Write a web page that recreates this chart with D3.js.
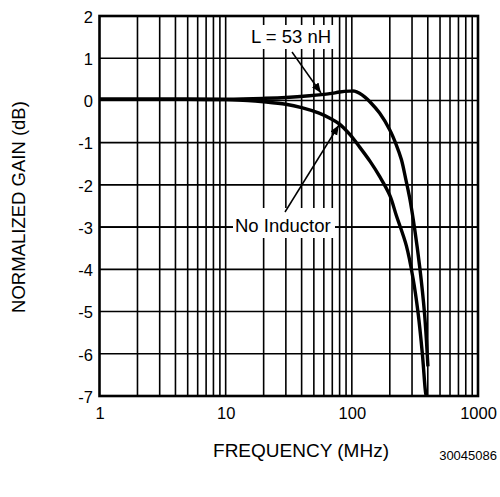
<!DOCTYPE html>
<html>
<head>
<meta charset="utf-8">
<script src="https://cdn.jsdelivr.net/npm/d3@7/dist/d3.min.js"></script>
<style>
  html, body { margin: 0; padding: 0; background: #fff; }
  svg { display: block; }
  text { font-family: "Liberation Sans", Arial, Helvetica, sans-serif; fill: #000; }
</style>
</head>
<body>
<svg id="chart" width="500" height="497"></svg>
<script>
// Frequency response: normalized gain (dB) vs frequency (MHz)
const withInductorFreq = [1, 5, 10, 20, 30, 46, 67, 80, 96, 105, 115, 127, 139, 166, 200, 225, 247, 267, 287, 315, 345, 377, 401];
const withInductorGain = [0.03, 0.03, 0.03, 0.05, 0.07, 0.11, 0.16, 0.20, 0.22, 0.22, 0.17, 0.08, -0.03, -0.30, -0.70, -1.05, -1.40, -1.85, -2.30, -3.05, -3.94, -5.05, -6.30];

const noInductorFreq = [1, 5, 10, 15, 20, 30, 40, 55, 67, 80, 96, 115, 140, 166, 200, 225, 271, 305, 334, 362, 385, 390];
const noInductorGain = [0.03, 0.03, 0.02, 0.0, -0.03, -0.09, -0.17, -0.30, -0.42, -0.56, -0.80, -1.10, -1.45, -1.80, -2.25, -2.72, -3.45, -4.20, -5.00, -5.99, -6.94, -7.00];

const xTickValues = [1, 10, 100, 1000];
const xTickLabels = ["1", "10", "100", "1000"];
const yTickValues = [2, 1, 0, -1, -2, -3, -4, -5, -6, -7];
const yTickLabels = ["2", "1", "0", "-1", "-2", "-3", "-4", "-5", "-6", "-7"];
const minorFreqs = [2, 3, 4, 5, 6, 7, 8, 9, 20, 30, 40, 50, 60, 70, 80, 90, 200, 300, 400, 500, 600, 700, 800, 900];

const svg = d3.select("#chart");
const plotL = 99.5, plotR = 478, plotT = 16, plotB = 396;

const x = d3.scaleLog().domain([1, 1000]).range([plotL, plotR]);
const y = d3.scaleLinear().domain([-7, 2]).range([plotB, plotT]);

// Grid
const grid = svg.append("g").attr("stroke", "#000").attr("stroke-width", 1.6);
grid.selectAll("line.v").data(minorFreqs.concat([10, 100])).join("line")
  .attr("class", "v")
  .attr("x1", d => x(d)).attr("x2", d => x(d))
  .attr("y1", plotT).attr("y2", plotB);
grid.selectAll("line.h").data(yTickValues).join("line")
  .attr("class", "h")
  .attr("x1", plotL).attr("x2", plotR)
  .attr("y1", d => y(d)).attr("y2", d => y(d));

// Label backgrounds cut the grid behind the annotation text
svg.append("rect").attr("x", 246).attr("y", 25).attr("width", 92).attr("height", 24).attr("fill", "#fff");
svg.append("rect").attr("x", 233).attr("y", 208).attr("width", 102).attr("height", 30).attr("fill", "#fff");
// The -3 dB grid line stays visible on both sides of the label
const g3 = svg.append("g").attr("stroke", "#000").attr("stroke-width", 1.6);
g3.append("line").attr("x1", plotL).attr("x2", 233).attr("y1", y(-3)).attr("y2", y(-3));
g3.append("line").attr("x1", 335).attr("x2", plotR).attr("y1", y(-3)).attr("y2", y(-3));

// Frame
svg.append("rect")
  .attr("x", plotL).attr("y", plotT)
  .attr("width", plotR - plotL).attr("height", plotB - plotT)
  .attr("fill", "none").attr("stroke", "#000").attr("stroke-width", 2.6);

// Curves
const line = d3.line()
  .x(d => x(d[0])).y(d => y(d[1]))
  .curve(d3.curveCatmullRom.alpha(0.5));

const series = [
  d3.zip(withInductorFreq, withInductorGain),
  d3.zip(noInductorFreq, noInductorGain)
];
svg.append("g").selectAll("path").data(series).join("path")
  .attr("d", line)
  .attr("fill", "none").attr("stroke", "#000")
  .attr("stroke-width", 3.4).attr("stroke-linejoin", "round");

// Axis tick labels
const yAxis = d3.axisLeft(y).tickValues(yTickValues).tickSize(0).tickPadding(0)
  .tickFormat((d, i) => yTickLabels[i]);
const gy = svg.append("g").attr("transform", "translate(93,1)").call(yAxis);
gy.select(".domain").remove();
gy.selectAll("text").attr("font-size", 16.5).attr("font-family", null);

const xAxis = d3.axisBottom(x).tickValues(xTickValues).tickSize(0).tickPadding(0)
  .tickFormat((d, i) => xTickLabels[i]);
const gx = svg.append("g").attr("transform", "translate(0,407)").call(xAxis);
gx.select(".domain").remove();
gx.selectAll("text").attr("font-size", 16.5).attr("font-family", null);

// Titles
svg.append("text").attr("x", 301).attr("y", 457).attr("text-anchor", "middle")
  .attr("font-size", 19).text("FREQUENCY (MHz)");
svg.append("text").attr("transform", "translate(25,207) rotate(-90)")
  .attr("text-anchor", "middle").attr("font-size", 18.5).text("NORMALIZED GAIN (dB)");
svg.append("text").attr("x", 497).attr("y", 460).attr("text-anchor", "end")
  .attr("font-size", 13).text("30045086");

// Annotations
svg.append("defs").append("marker")
  .attr("id", "head").attr("viewBox", "0 0 10 10")
  .attr("refX", 10).attr("refY", 5)
  .attr("markerWidth", 10).attr("markerHeight", 10)
  .attr("markerUnits", "userSpaceOnUse")
  .attr("orient", "auto")
  .append("path").attr("d", "M0,1 L10,5 L0,9 Z").attr("fill", "#000");

svg.append("text").attr("x", 251).attr("y", 43.3).attr("font-size", 18.5).text("L = 53 nH");
svg.append("line").attr("x1", 292).attr("y1", 52).attr("x2", 321).attr("y2", 93)
  .attr("stroke", "#000").attr("stroke-width", 1.5).attr("marker-end", "url(#head)");

svg.append("text").attr("x", 235).attr("y", 231.7).attr("font-size", 18.5).text("No Inductor");
svg.append("line").attr("x1", 285).attr("y1", 212).attr("x2", 339).attr("y2", 125)
  .attr("stroke", "#000").attr("stroke-width", 1.5).attr("marker-end", "url(#head)");
</script>
</body>
</html>
